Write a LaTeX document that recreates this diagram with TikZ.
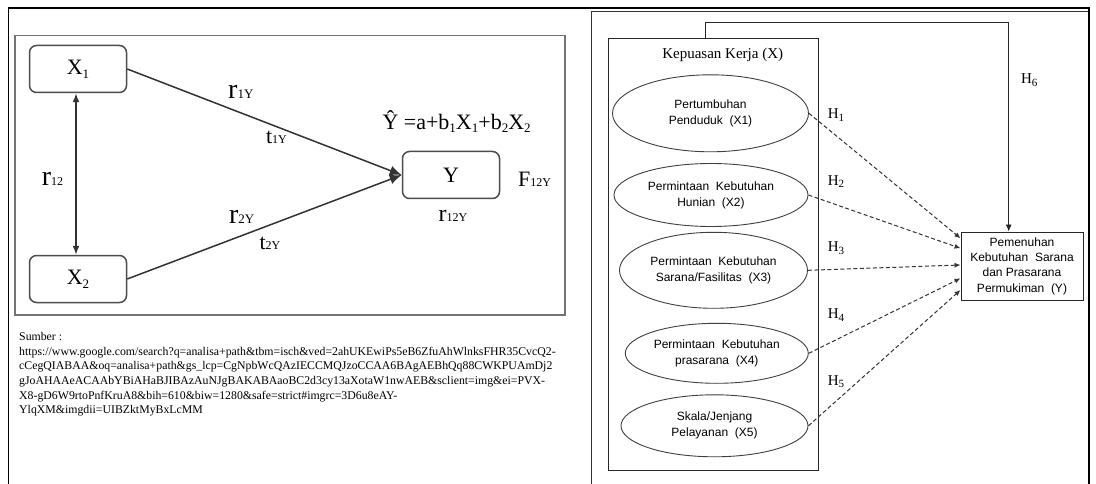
\documentclass[tikz,border=0pt]{standalone}
\usepackage{fontspec}
\setmainfont{Liberation Serif}
\newfontfamily\arialf{Liberation Sans}
\usetikzlibrary{shapes.geometric,arrows.meta}

% font size shortcut and a raised/lowered small text
\newcommand\fs[1]{\fontsize{#1}{#1}\selectfont}
\newcommand\sbt[3]{\raisebox{#2}{\fontsize{#1}{#1}\selectfont #3}}
% a big letter followed by a small index on the same baseline
\newcommand\idx[4]{{\fs{#1}#2\sbt{#3}{0pt}{#4}}}

\tikzset{
  x=1pt, y=-1pt,
  rbox/.style={draw=black!70, line width=1.5pt, rounded corners=7pt,
    minimum width=97pt, minimum height=47pt, inner sep=0pt},
  larr/.style={draw=black!80, line width=1.5pt, -{Latex[length=12pt,width=10pt]}},
  dblarr/.style={draw=black!80, line width=1.5pt,
    {Latex[length=9pt,width=7pt]}-{Latex[length=9pt,width=7pt]}},
  ell/.style={ellipse, draw=black!75, line width=0.9pt, inner sep=0pt,
    align=center, font=\arialf\fontsize{12}{16}\selectfont},
  darr/.style={draw=black!80, line width=1pt, dash pattern=on 4pt off 2.5pt,
    -{Latex[length=6pt,width=5pt]}},
  sarr/.style={draw=black!85, line width=0.9pt, -{Latex[length=7pt,width=6pt]}},
  hlab/.style={font=\fs{15}},
}

\begin{document}
\begin{tikzpicture}
\useasboundingbox (0,0) rectangle (1096,484);
\fill[white] (0,0) rectangle (1096,484);

% table frame
\draw[line width=2pt] (8,8.5) -- (1090,8.5);
\draw[line width=1.5pt] (8.5,8.5) -- (8.5,484);
\draw[line width=1.5pt] (1089,8.5) -- (1089,484);
\draw[line width=0.8pt, black!80] (591,484) -- (591,11) -- (1088,11);

% ---------- left: two predictors and one criterion ----------
\draw[black!55, line width=1.2pt] (15,35.7) rectangle (565,315);

\node[rbox] (x1) at (78,69) {\fs{22}X\sbt{13}{-4pt}{1}};
\node[rbox] (x2) at (78,279) {\fs{22}X\sbt{13}{-4pt}{2}};
\node[rbox] (y) at (451,175) {\fs{22}Y};

\draw[larr] (x1.east) -- (y.west);
\draw[larr] (x2.east) -- (y.west);
\draw[dblarr] ([xshift=-2pt]x1.south) -- ([xshift=-2pt]x2.north);

\node[anchor=base, inner sep=0pt] (lr1y) at (240.8,98.3) {\idx{28}{r}{13}{1Y}};
\node[anchor=base, inner sep=0pt] (lt1y) at (276.5,144) {\idx{22}{t}{12}{1Y}};
\node[anchor=base, inner sep=0pt] (lr2y) at (241.7,224) {\idx{28}{r}{13}{2Y}};
\node[anchor=base, inner sep=0pt] (lt2y) at (270,250) {\idx{22}{t}{12}{2Y}};
\node[anchor=base, inner sep=0pt] (lr12) at (52.5,185.7) {\idx{28}{r}{12}{12}};
\node[anchor=base, inner sep=0pt] (lr12y) at (453,221.7) {\idx{24}{r}{12}{12Y}};
\node[anchor=base, inner sep=0pt] (lf12y) at (534.5,186.7) {\idx{22}{F}{12}{12Y}};
\node[anchor=base west, inner sep=0pt] (lreg) at (382.3,130)
  {\fs{22}Ŷ =a+b\sbt{13}{-3pt}{1}X\sbt{13}{-3pt}{1}+b\sbt{13}{-3pt}{2}X\sbt{13}{-3pt}{2}};

% source note
\node[anchor=north west, align=left, inner sep=0pt, font=\fontsize{11.8}{14.7}\selectfont] (src) at (19,332)
{Sumber :\\
https://www.google.com/search?q=analisa+path\&tbm=isch\&ved=2ahUKEwiPs5eB6ZfuAhWlnksFHR35CvcQ2-\\
cCegQIABAA\&oq=analisa+path\&gs\_lcp=CgNpbWcQAzIECCMQJzoCCAA6BAgAEBhQq88CWKPUAmDj2\\
gJoAHAAeACAAbYBiAHaBJIBAzAuNJgBAKABAaoBC2d3cy13aXotaW1nwAEB\&sclient=img\&ei=PVX-\\
X8-gD6W9rtoPnfKruA8\&bih=610\&biw=1280\&safe=strict\#imgrc=3D6u8eAY-\\
YlqXM\&imgdii=UIBZktMyBxLcMM};

% ---------- right: research model ----------
\node[draw=black!85, line width=0.9pt, minimum width=210.4pt, minimum height=431.7pt, inner sep=0pt] (kep) at (713.5,254.2) {};
\node[anchor=base, inner sep=0pt] (kept) at (722.7,59) {\fs{15}Kepuasan Kerja (X)};

\node[ell, minimum width=196pt, minimum height=77pt] (e1) at (710.5,113.3) {Pertumbuhan\\Penduduk\ \ (X1)};
\node[ell, minimum width=194pt, minimum height=63pt] (e2) at (711,195) {Permintaan\ \ Kebutuhan\\Hunian\ \ (X2)};
\node[ell, minimum width=188pt, minimum height=76pt] (e3) at (713.5,270.3) {Permintaan\ \ Kebutuhan\\Sarana/Fasilitas\ \ (X3)};
\node[ell, minimum width=183pt, minimum height=60pt] (e4) at (716.8,353.3) {Permintaan\ \ Kebutuhan\\prasarana\ \ (X4)};
\node[ell, minimum width=187pt, minimum height=62pt] (e5) at (714.5,425.8) {Skala/Jenjang\\Pelayanan\ \ (X5)};

\node[draw=black!85, line width=0.9pt, minimum width=122pt, minimum height=68pt, inner sep=0pt,
  align=center, font=\arialf\fontsize{12}{15.3}\selectfont] (yb) at (1022,266)
  {Pemenuhan\\Kebutuhan\ \ Sarana\\dan\ Prasarana\\Permukiman\ \ (Y)};

\draw[darr] (e1.east) -- ([yshift=27.7pt]yb.west);
\draw[darr] (e2.east) -- ([yshift=17.7pt]yb.west);
\draw[darr] (e3.east) -- ([yshift=1pt]yb.west);
\draw[darr] (e4.east) -- ([yshift=-12.3pt]yb.west);
\draw[darr] (e5.east) -- ([yshift=-24pt]yb.west);

\coordinate (h6a) at (705,22.7);
\coordinate (h6b) at (1008.7,22.7);
\draw[sarr] (kep.north -| h6a) -- (h6a) -- (h6b) -- (yb.north -| h6b);

\node[hlab] (h1) at (836,115) {H\sbt{11}{-2.5pt}{1}};
\node[hlab] (h2) at (836,181.7) {H\sbt{11}{-2.5pt}{2}};
\node[hlab] (h3) at (836,248.3) {H\sbt{11}{-2.5pt}{3}};
\node[hlab] (h4) at (836,315) {H\sbt{11}{-2.5pt}{4}};
\node[hlab] (h5) at (836,381.7) {H\sbt{11}{-2.5pt}{5}};
\node[hlab] (h6) at (1029.3,80) {H\sbt{11}{-2.5pt}{6}};
\end{tikzpicture}
\end{document}
